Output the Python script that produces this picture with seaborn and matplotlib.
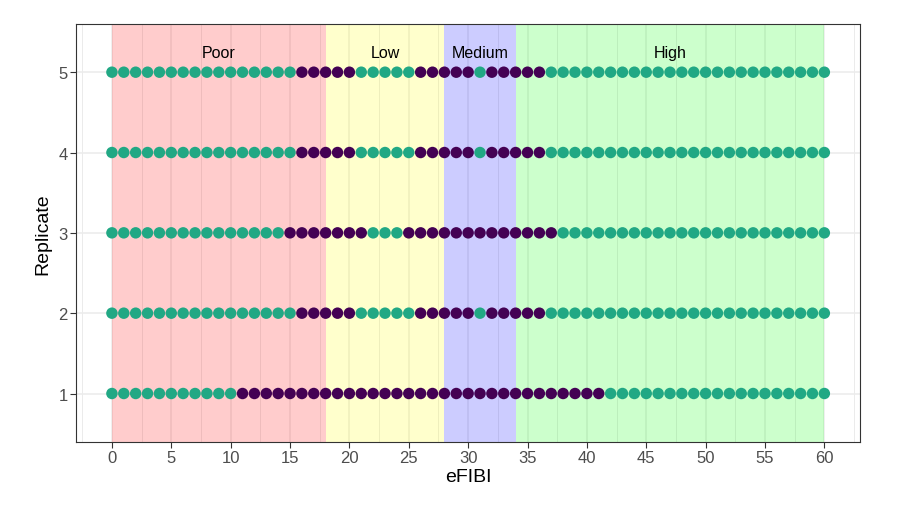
import numpy as np
import pandas as pd
import matplotlib
matplotlib.use("Agg")
import matplotlib.pyplot as plt
import seaborn as sns
from matplotlib.ticker import MultipleLocator

# eFIBI values tested (one point per integer value)
efibi = list(range(0, 61))

# 0 = teal, 1 = dark purple, one character per eFIBI value
rep_status = {
    1: "00000000000 1111111111111111111111111111111 0000000000000000000",
    2: "0000000000000000 11111 00000 11111 0 11111 000000000000000000000000",
    3: "000000000000000 1111111 000 1111111111111 00000000000000000000000",
    4: "0000000000000000 11111 00000 11111 0 11111 000000000000000000000000",
    5: "0000000000000000 11111 00000 11111 0 11111 000000000000000000000000",
}

# quality bands
band_names = ["Poor", "Low", "Medium", "High"]
band_start = [0, 18, 28, 34]
band_end = [18, 28, 34, 60]
band_colors = ["red", "yellow", "blue", "lime"]
band_label_x = [9, 23, 31, 47]

rows = []
for rep, s in rep_status.items():
    codes = s.replace(" ", "")
    for x, c in zip(efibi, codes):
        rows.append({"eFIBI": x, "Replicate": rep, "status": c})
df = pd.DataFrame(rows)

sns.set_theme(style="white")
plt.rcParams["font.family"] = ["Liberation Sans", "DejaVu Sans"]

fig = plt.figure(figsize=(9.04, 5.06), dpi=100)
ax = fig.add_axes([0.0844, 0.1251, 0.8669, 0.8255])

for name, a, b, col, lx in zip(band_names, band_start, band_end, band_colors, band_label_x):
    ax.axvspan(a, b, color=col, alpha=0.2, lw=0, zorder=1)
    ax.text(lx, 5.25, name, ha="center", va="center", fontsize=11.5, color="black", zorder=4)

sns.scatterplot(data=df, x="eFIBI", y="Replicate", hue="status",
                palette={"0": "#21A884", "1": "#440154"}, hue_order=["0", "1"],
                s=68, linewidth=0, legend=False, ax=ax, zorder=3)

ax.set_xlim(-3, 63)
ax.set_ylim(0.4, 5.6)
ax.xaxis.set_major_locator(MultipleLocator(5))
ax.xaxis.set_minor_locator(MultipleLocator(2.5))
ax.set_yticks([1, 2, 3, 4, 5])

ax.set_axisbelow(True)
ax.grid(which="major", color="#EBEBEB", lw=1.1)
ax.grid(which="minor", axis="x", color="#EBEBEB", lw=0.7)

for sp in ax.spines.values():
    sp.set_color("#333333")
    sp.set_linewidth(0.8)

ax.tick_params(axis="both", which="major", direction="out", length=4, width=0.8,
               color="#333333", labelcolor="#4D4D4D", labelsize=12, pad=2,
               bottom=True, left=True)
ax.tick_params(axis="x", which="minor", bottom=False)

ax.set_xlabel("eFIBI", fontsize=14, color="black", labelpad=2)
ax.set_ylabel("Replicate", fontsize=14, color="black", labelpad=5)

fig.savefig("out.png", dpi=100)
